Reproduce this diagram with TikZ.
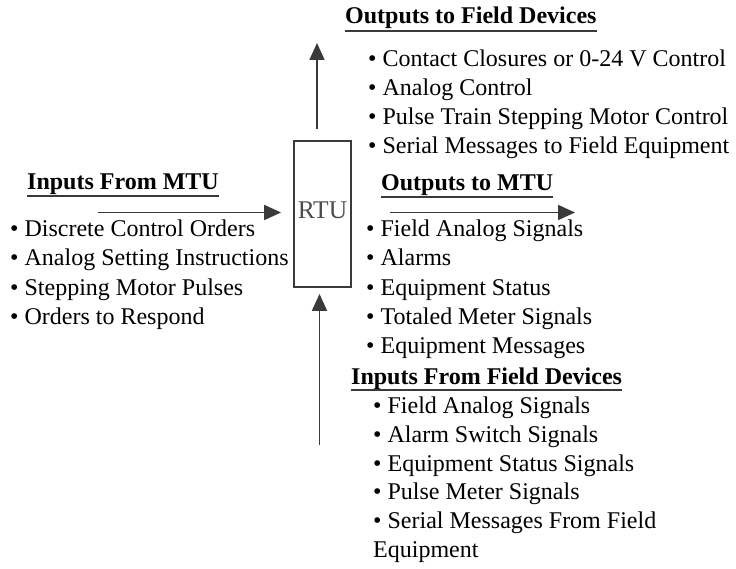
\documentclass[tikz,border=0pt]{standalone}
\usepackage{fontspec}
\setmainfont{Liberation Serif}
\usetikzlibrary{arrows.meta}

\definecolor{linea}{HTML}{3A3A3A}

\tikzset{
    voce/.style={anchor=base west, inner sep=0pt, font=\fontsize{24}{29}\selectfont},
    titolo/.style={voce, font=\fontsize{24}{29}\selectfont\bfseries},
    sottolinea/.style={line width=2.2pt, color=linea},
    flusso/.style={line width=1.8pt, color=linea, -{Triangle[length=17pt, width=15pt]}},
    unita/.style={draw=linea, line width=1.8pt, rectangle, minimum width=57pt, minimum height=146pt,
        inner sep=0pt, text depth=8pt, font=\fontsize{25.5}{29}\selectfont, text=black!70}
}

\begin{document}
\begin{tikzpicture}[x=1pt, y=-1pt]
    \useasboundingbox (0,0) rectangle (736,569);

    % Blocco RTU
    \node[unita] (rtu) at (322.5, 214) {RTU};

    % Uscite verso i dispositivi di campo
    \node[titolo] (fdout) at (345, 24) {Outputs to Field Devices};
    \draw[sottolinea] ([yshift=-7pt]fdout.base west) -- ([yshift=-7pt]fdout.base east);
    \node[voce] (fdout1) at (368, 67) {\textbullet{} Contact Closures or 0-24 V Control};
    \node[voce] (fdout2) at (368, 96) {\textbullet{} Analog Control};
    \node[voce] (fdout3) at (368, 125) {\textbullet{} Pulse Train Stepping Motor Control};
    \node[voce] (fdout4) at (368, 154) {\textbullet{} Serial Messages to Field Equipment};

    % Ingressi dalla MTU
    \node[titolo] (inmtu) at (27, 190) {Inputs From MTU};
    \draw[sottolinea] ([yshift=-6pt]inmtu.base west) -- ([yshift=-6pt]inmtu.base east);
    \node[voce] (inmtu1) at (10, 237) {\textbullet{} Discrete Control Orders};
    \node[voce] (inmtu2) at (10, 266) {\textbullet{} Analog Setting Instructions};
    \node[voce] (inmtu3) at (10, 295) {\textbullet{} Stepping Motor Pulses};
    \node[voce] (inmtu4) at (10, 324) {\textbullet{} Orders to Respond};

    % Uscite verso la MTU
    \node[titolo] (outmtu) at (381, 191) {Outputs to MTU};
    \draw[sottolinea] ([yshift=-6pt]outmtu.base west) -- ([yshift=-6pt]outmtu.base east);
    \node[voce] (outmtu1) at (366, 237) {\textbullet{} Field Analog Signals};
    \node[voce] (outmtu2) at (366, 266) {\textbullet{} Alarms};
    \node[voce] (outmtu3) at (366, 295) {\textbullet{} Equipment Status};
    \node[voce] (outmtu4) at (366, 324) {\textbullet{} Totaled Meter Signals};
    \node[voce] (outmtu5) at (366, 353) {\textbullet{} Equipment Messages};

    % Ingressi dai dispositivi di campo
    \node[titolo] (fdin) at (351, 384) {Inputs From Field Devices};
    \draw[sottolinea] ([yshift=-6pt]fdin.base west) -- ([yshift=-6pt]fdin.base east);
    \node[voce] (fdin1) at (373, 413.5) {\textbullet{} Field Analog Signals};
    \node[voce] (fdin2) at (373, 442.3) {\textbullet{} Alarm Switch Signals};
    \node[voce] (fdin3) at (373, 471.1) {\textbullet{} Equipment Status Signals};
    \node[voce] (fdin4) at (373, 499.9) {\textbullet{} Pulse Meter Signals};
    \node[voce] (fdin5) at (373, 528.7) {\textbullet{} Serial Messages From Field};
    \node[voce] (fdin6) at (373, 557.5) {Equipment};

    % Frecce
    \coordinate (inmtu-coda) at (98, 212.5);
    \coordinate (fdout-punta) at (317, 43);
    \coordinate (outmtu-coda) at (390, 212.5);
    \coordinate (outmtu-punta) at (575, 212.5);
    \coordinate (fdin-coda) at (319.5, 445);
    \draw[flusso, shorten >=12pt] (inmtu-coda) -- (inmtu-coda -| rtu.west);
    \draw[flusso, shorten <=11pt] (rtu.north -| fdout-punta) -- (fdout-punta);
    \draw[flusso] (outmtu-coda) -- (outmtu-punta);
    \draw[flusso, shorten >=6pt] (fdin-coda) -- (fdin-coda |- rtu.south);
\end{tikzpicture}
\end{document}
